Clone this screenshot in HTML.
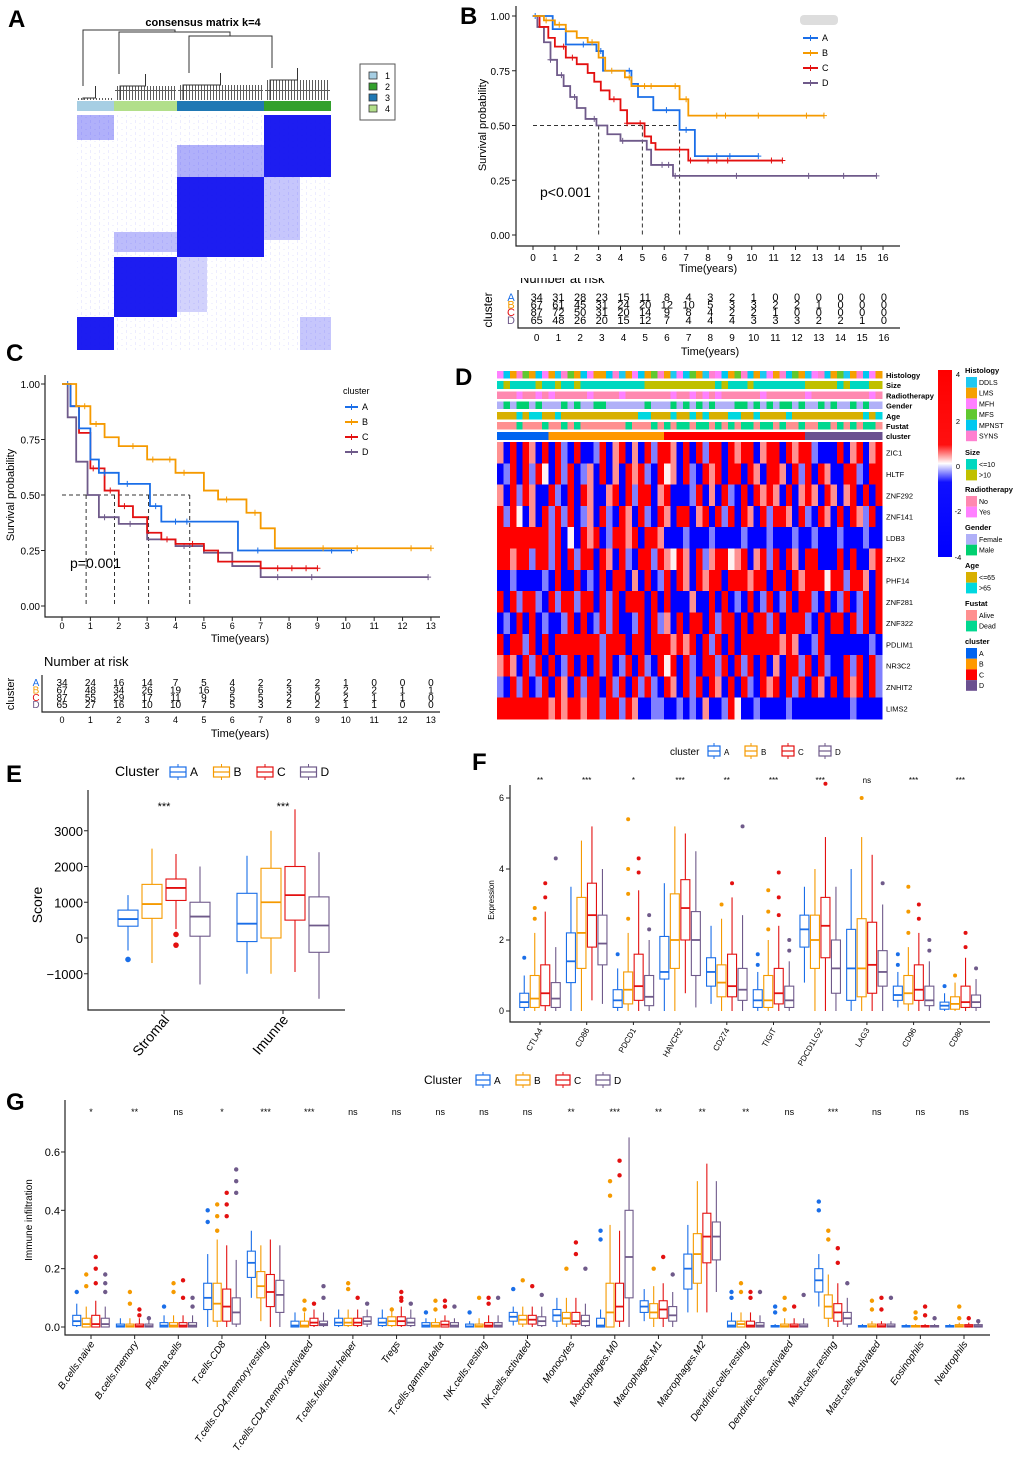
<!DOCTYPE html>
<html><head><meta charset="utf-8"><style>
html,body{margin:0;padding:0;background:#fff}
svg{display:block}
text{font-family:"Liberation Sans",Arial,sans-serif}
</style></head><body>
<svg id="s" width="1020" height="1459" viewBox="0 0 1020 1459" xmlns="http://www.w3.org/2000/svg">
<defs>
<linearGradient id="hmgrad" x1="0" y1="0" x2="0" y2="1">
<stop offset="0" stop-color="#ff0000"/><stop offset="0.4" stop-color="#ff1010"/><stop offset="0.5" stop-color="#ffffff"/><stop offset="0.6" stop-color="#1010ff"/><stop offset="1" stop-color="#0000ff"/>
</linearGradient>
<pattern id="noise" width="9" height="6" patternUnits="userSpaceOnUse"><rect x="0" y="0" width="1" height="3" fill="#d8d8ff"/><rect x="4" y="3" width="2" height="1" fill="#e4e4ff"/></pattern>
<pattern id="leaves" width="3" height="14" patternUnits="userSpaceOnUse"><rect x="0" y="0" width="1" height="14" fill="#333"/><rect x="0" y="6" width="3" height="1" fill="#333"/></pattern>
</defs>
<rect width="1020" height="1459" fill="#fff"/>
<text x="8" y="27" font-size="24" font-weight="bold">A</text>
<text x="460" y="24" font-size="24" font-weight="bold">B</text>
<text x="6" y="361" font-size="24" font-weight="bold">C</text>
<text x="455" y="385" font-size="24" font-weight="bold">D</text>
<text x="6" y="782" font-size="24" font-weight="bold">E</text>
<text x="472" y="770" font-size="24" font-weight="bold">F</text>
<text x="6" y="1110" font-size="24" font-weight="bold">G</text>
<text x="203" y="26" font-size="11" font-weight="bold" text-anchor="middle">consensus matrix k=4</text>
</svg>
<script>
const NS='http://www.w3.org/2000/svg';
const S=document.getElementById('s');
function mk(t,a,p){const e=document.createElementNS(NS,t);for(const k in a)e.setAttribute(k,a[k]);(p||S).appendChild(e);return e;}
function tx(x,y,s,a,p){const e=mk('text',Object.assign({x:x,y:y},a||{}),p);e.textContent=s;return e;}
const CL=['#1a6ee8','#f59a00','#e31010','#6f5a8a'];
const CN=['A','B','C','D'];

/* ---------- Panel A : consensus matrix ---------- */
const aBounds=[77,114,177,264,331];
const aRowBounds=[115,177,257,317,350];
const aBarColors=['#a6cee3','#b2df8a','#1f78b4','#33a02c'];
const gPA=mk('g',{});


mk('rect',{x:77,y:115,width:254,height:235,fill:'url(#noise)',opacity:0.5},gPA);
const aBlocks=[[264,115,67,62,1],[77,115,37,25,0.35],[177,145,87,32,0.35],[177,177,87,80,1],[114,257,63,60,1],[77,317,37,33,1],[264,177,36,63,0.25],[114,232,63,20,0.3],[300,317,31,33,0.25],[177,257,30,55,0.2]];
aBlocks.forEach(b=>{const r=mk('rect',{x:b[0],y:b[1],width:b[2],height:b[3],fill:'#0a0af0','fill-opacity':b[4]*0.92},gPA);

});
for(let i=0;i<4;i++){const r=mk('rect',{x:aBounds[i],y:101,width:aBounds[i+1]-aBounds[i],height:10,fill:aBarColors[i]});

}
const dend=mk('g',{stroke:'#333','stroke-width':1,fill:'none'});


mk('path',{d:'M83,86V30H175V32 M119,74V32H230V36 M189,73V36H272V68'},dend);
[[77,114,86],[114,177,74],[177,264,73],[264,331,68]].forEach(s=>{
 mk('rect',{x:s[0]+1,y:s[2]+12,width:s[1]-s[0]-2,height:100-s[2]-12,fill:'url(#leaves)',stroke:'none',opacity:0.8},dend);
 mk('path',{d:`M${s[0]+6},100V${s[2]+12}H${(s[0]+s[1])/2}V${s[2]} M${(s[0]+s[1])/2},${s[2]+12}V${s[2]+5}`},dend);
});
const lgA=mk('g',{});


mk('rect',{x:360,y:64,width:35,height:56,fill:'#fff',stroke:'#555'},lgA);
['1','2','3','4'].forEach((l,i)=>{mk('rect',{x:369,y:72+i*11,width:8,height:7,fill:[aBarColors[0],aBarColors[3],aBarColors[2],aBarColors[1]][i],stroke:'#333','stroke-width':0.8},lgA);tx(385,79+i*11,l,{'font-size':9},lgA);});

/* ---------- KM helper ---------- */
function kmCurve(xs,ys,times,surv,cens,col,name){
 let d=`M${xs(times[0])},${ys(surv[0])}`;
 for(let i=1;i<times.length;i++){d+=`H${xs(times[i])}V${ys(surv[i])}`;}
 const g=mk('g',{});
 
 
 mk('path',{d:d,fill:'none',stroke:col,'stroke-width':1.8},g);
 cens.forEach(c=>{let s=surv[0];for(let i=0;i<times.length;i++){if(times[i]<=c)s=surv[i];}
  mk('path',{d:`M${xs(c)},${ys(s)-3}v6M${xs(c)-3},${ys(s)}h6`,stroke:col,'stroke-width':1},g);});
}

/* ---------- Panel B ---------- */
const bTimesA=[0,0.9,1.5,2.9,3.2,4.5,4.8,5.5,6.7,7.4,10.3];
const bSurvA=[1,0.94,0.87,0.84,0.75,0.69,0.63,0.57,0.48,0.36,0.36];
const bCensA=[0.1,2.3,3.1,4.4,6.1,7.0,8.4,9.0,10.3];
const bTimesB=[0,0.5,1,1.5,2,2.5,3,3.3,4.2,4.5,6.7,7.1,13.3];
const bSurvB=[1,0.98,0.96,0.93,0.9,0.88,0.81,0.75,0.72,0.68,0.62,0.545,0.545];
const bCensB=[0.6,1.2,2.7,3.6,4.4,5.1,5.4,6.5,7.0,8.4,8.8,10.3,12.5,13.3];
const bTimesC=[0,0.3,0.7,1,1.5,2,2.5,2.8,3.1,3.5,4,4.3,5.1,5.4,5.6,7.1,11.4];
const bSurvC=[1,0.95,0.9,0.86,0.81,0.78,0.74,0.7,0.66,0.62,0.57,0.51,0.45,0.42,0.39,0.34,0.34];
const bCensC=[1.4,1.8,3.7,4.3,4.9,6.7,7.2,8,8.4,8.9,10.9,11.4];
const bTimesD=[0,0.2,0.5,0.8,1.1,1.4,1.7,2,2.4,2.9,3.4,4,5.2,5.4,6.4,15.7];
const bSurvD=[1,0.95,0.88,0.8,0.73,0.68,0.63,0.58,0.53,0.5,0.46,0.43,0.39,0.32,0.27,0.27];
const bCensD=[0.8,1.3,1.9,2.8,4.1,5.9,6.2,6.5,9.3,12.6,14.2,15.7];
const bMedians=[3.0,5.0,6.7];
const bYTicks=['0.00','0.25','0.50','0.75','1.00'];
const bRiskA=[34,31,28,23,15,11,8,4,3,2,1,0,0,0,0,0,0];
const bRiskB=[67,61,45,31,24,20,12,10,5,3,3,2,2,1,0,0,0];
const bRiskC=[87,72,50,31,20,14,9,8,4,2,2,1,0,0,0,0,0];
const bRiskD=[65,48,26,20,15,12,7,4,4,4,3,3,3,2,2,1,0];
(function(){
 const xs=t=>533+t*21.875, ys=s=>235-s*219;
 const g=mk('g',{});
 
 
 mk('path',{d:'M516,6V246H900',fill:'none',stroke:'#222','stroke-width':1.2},g);
 bYTicks.forEach(v=>{const y=ys(+v);mk('line',{x1:512,x2:516,y1:y,y2:y,stroke:'#222'},g);
  const t=tx(510,y+4,v,{'font-size':10,'text-anchor':'end'},g);
  
  });
 for(let i=0;i<=16;i++){mk('line',{x1:xs(i),x2:xs(i),y1:246,y2:250,stroke:'#222'},g);
  const t=tx(xs(i),261,String(i),{'font-size':10,'text-anchor':'middle'},g);
  
  }
 const yt=tx(0,0,'Survival probability',{'font-size':11,'text-anchor':'middle',transform:'translate(486,125) rotate(-90)'},g);
 
 
 const xt=tx(708,272,'Time(years)',{'font-size':11,'text-anchor':'middle'},g);
 
 
 mk('path',{d:`M${xs(0)},${ys(0.5)}H${xs(bMedians[2])}`+bMedians.map(m=>`M${xs(m)},${ys(0.5)}V${ys(0)}`).join(''),stroke:'#333','stroke-dasharray':'4,3',fill:'none'},g);
 kmCurve(xs,ys,bTimesD,bSurvD,bCensD,CL[3],'km-curve-d');
 kmCurve(xs,ys,bTimesC,bSurvC,bCensC,CL[2],'km-curve-c');
 kmCurve(xs,ys,bTimesA,bSurvA,bCensA,CL[0],'km-curve-a');
 kmCurve(xs,ys,bTimesB,bSurvB,bCensB,CL[1],'km-curve-b');
 const p=tx(540,197,'p<0.001',{'font-size':14},g);
 
 
 mk('rect',{x:800,y:15,width:38,height:10,fill:'#ddd',rx:4},g);
 CN.forEach((c,i)=>{const y=38+i*15;mk('line',{x1:803,x2:818,y1:y,y2:y,stroke:CL[i],'stroke-width':2},g);
  mk('path',{d:`M810.5,${y-3}v6`,stroke:CL[i]},g);
  const t=tx(822,y+3,c,{'font-size':9},g);
  
  });
 const rx=t=>536.7+t*21.7;
 const rt=mk('g',{});
 
 
 tx(520,283,'Number at risk',{'font-size':13},rt);
 mk('rect',{x:515,y:268,width:120,height:10,fill:'#fff'},rt);
 mk('path',{d:'M518,290V328H900',fill:'none',stroke:'#222','stroke-width':1.2},rt);
 [bRiskA,bRiskB,bRiskC,bRiskD].forEach((arr,j)=>{const y=301+j*7.6;
  tx(511,y,CN[j],{'font-size':11,fill:CL[j],'text-anchor':'middle'},rt);
  arr.forEach((v,i)=>tx(rx(i),y,String(v),{'font-size':11,'text-anchor':'middle'},rt));});
 tx(0,0,'cluster',{'font-size':12,'text-anchor':'middle',transform:'translate(492,310) rotate(-90)'},rt);
 for(let i=0;i<=16;i++){tx(rx(i),341,String(i),{'font-size':10,'text-anchor':'middle'},rt);}
 tx(710,355,'Time(years)',{'font-size':11,'text-anchor':'middle'},rt);
})();

/* ---------- Panel C ---------- */
const cTimesA=[0,0.3,0.6,1,1.3,2,3.1,3.5,4.5,6.2,10.2];
const cSurvA=[1,0.9,0.8,0.66,0.6,0.55,0.45,0.38,0.38,0.25,0.25];
const cCensA=[0.2,1.5,2.3,3.3,4.0,4.4,6.9,9.5,10.2];
const cTimesB=[0,0.5,1,1.5,2,3,4,5,5.5,6.5,7,7.5,13];
const cSurvB=[1,0.9,0.82,0.76,0.72,0.66,0.6,0.52,0.48,0.42,0.35,0.26,0.26];
const cCensB=[0.8,1.2,2.5,3.2,3.8,4.3,5.8,6.8,9.2,10.4,12.3,13];
const cTimesC=[0,0.3,0.6,1,1.5,2,2.5,3,3.5,4,5,5.5,7,9];
const cSurvC=[1,0.9,0.78,0.62,0.52,0.45,0.4,0.33,0.3,0.28,0.25,0.2,0.17,0.17];
const cCensC=[1.1,1.7,2.2,3.7,4.6,7.6,8.1,8.6,9.0];
const cTimesD=[0,0.2,0.5,0.9,1.3,2,3,4,5,6,7,12.9];
const cSurvD=[1,0.85,0.65,0.5,0.4,0.37,0.3,0.27,0.24,0.18,0.13,0.13];
const cCensD=[1.5,2.4,4.3,7.6,8.8,12.9];
const cMedians=[0.85,1.85,3.05,4.5];
const cRiskA=[34,24,16,14,7,5,4,2,2,2,1,0,0,0];
const cRiskB=[67,48,34,26,19,16,9,6,3,2,2,2,1,1];
const cRiskC=[87,55,29,17,11,9,5,5,2,0,2,1,1,0];
const cRiskD=[65,27,16,10,10,7,5,3,2,2,1,1,0,0];
(function(){
 const xs=t=>62+t*28.38, ys=s=>606-s*222;
 const g=mk('g',{});
 
 
 mk('path',{d:'M45,375V617H440',fill:'none',stroke:'#222','stroke-width':1.2},g);
 bYTicks.forEach(v=>{const y=ys(+v);mk('line',{x1:41,x2:45,y1:y,y2:y,stroke:'#222'},g);
  const t=tx(40,y+4,v,{'font-size':10,'text-anchor':'end'},g);
  
  });
 for(let i=0;i<=13;i++){mk('line',{x1:xs(i),x2:xs(i),y1:617,y2:621,stroke:'#222'},g);
  const t=tx(xs(i),629,String(i),{'font-size':9,'text-anchor':'middle'},g);
  
  }
 const yt=tx(0,0,'Survival probability',{'font-size':11,'text-anchor':'middle',transform:'translate(14,495) rotate(-90)'},g);
 
 
 const xt=tx(240,642,'Time(years)',{'font-size':11,'text-anchor':'middle'},g);
 
 
 mk('path',{d:`M${xs(0)},${ys(0.5)}H${xs(cMedians[3])}`+cMedians.map(m=>`M${xs(m)},${ys(0.5)}V${ys(0)}`).join(''),stroke:'#333','stroke-dasharray':'4,3',fill:'none'},g);
 kmCurve(xs,ys,cTimesD,cSurvD,cCensD,CL[3],'km-curve-d');
 kmCurve(xs,ys,cTimesC,cSurvC,cCensC,CL[2],'km-curve-c');
 kmCurve(xs,ys,cTimesA,cSurvA,cCensA,CL[0],'km-curve-a');
 kmCurve(xs,ys,cTimesB,cSurvB,cCensB,CL[1],'km-curve-b');
 const p=tx(70,568,'p=0.001',{'font-size':14},g);
 
 
 tx(343,394,'cluster',{'font-size':9},g);
 CN.forEach((c,i)=>{const y=407+i*15;mk('line',{x1:345,x2:358,y1:y,y2:y,stroke:CL[i],'stroke-width':2},g);
  mk('path',{d:`M351.5,${y-3}v6`,stroke:CL[i]},g);
  const t=tx(362,y+3,c,{'font-size':9},g);
  
  });
 const rt=mk('g',{});
 
 
 tx(44,666,'Number at risk',{'font-size':13},rt);
 mk('path',{d:'M42,675V712H440',fill:'none',stroke:'#222','stroke-width':1.2},rt);
 [cRiskA,cRiskB,cRiskC,cRiskD].forEach((arr,j)=>{const y=686+j*7.4;
  tx(36,y,CN[j],{'font-size':10,fill:CL[j],'text-anchor':'middle'},rt);
  arr.forEach((v,i)=>tx(xs(i),y,String(v),{'font-size':10,'text-anchor':'middle'},rt));});
 tx(0,0,'cluster',{'font-size':11,'text-anchor':'middle',transform:'translate(14,694) rotate(-90)'},rt);
 for(let i=0;i<=13;i++){tx(xs(i),723,String(i),{'font-size':9,'text-anchor':'middle'},rt);}
 tx(240,737,'Time(years)',{'font-size':11,'text-anchor':'middle'},rt);
})();

/* ---------- Panel D : heatmap ---------- */
const dGenes=['ZIC1','HLTF','ZNF292','ZNF141','LDB3','ZHX2','PHF14','ZNF281','ZNF322','PDLIM1','NR3C2','ZNHIT2','LIMS2'];
const dRows=[
'rBRBRrBRBRbBRBBbRBrRBrBRbRRrBRBRbRRBRrRRBrRRBRrRRbBBBRBrRBrR',
'BbRBRbRwBRbRBbrBRBrBRrRbBRwrBRbBRrRBRRBRrBRRrBRbRBRrBBRRbBRR',
'rBRbRrBBRbBRBRrBBrRBRbRRBrRBBBbRBrBRbBRBRrRrBRBrRrBRrBrRBRBR',
'RbRwBrBRbRbRBbrBRbBRrBRbBRrBRRBrRBRbRBRrBRbRRrBRbBRrBRBRrbRB',
'RRRRRRRRbRBwBRrRBbRRrRBRRrBBBbBBBbBBBBbBBBbBBBbBBbBBBbBBBbBB',
'RRrRRbRRbRBRbRRBRrBRbBRRbRrwRrBRbrRRwrRBrRbRBRrBRRBBBRBRBBrR',
'BBbBBBBbBRBBRBbBRBRRBrBRBbRBRrBRrRRBRRRrRRBRRBRrRRRwRRbRRrBR',
'RBRbRRbBRbRRbRRBRbRBRRRBRBRBBBrBBRBRBbBRBbRBbRBRRbBRBbRBbRBR',
'BbBRBRBbBBbRBRBbRbRBBbRBRbrBRBRRBRbRRBRBRRbRBRRRbBRBRRBRbRBR',
'RBRRbRBRBRRRRRRRbRRRBRRBRRRrRrRBRbRBRBRRRRRRrRrBBbRBBBBBBBbB',
'rRrBRbRBRBbRBRBRbRBbRBRbBRwRBRbBRRbRBRbRBRBrBRRbRBRbBBRbRBRb',
'bBRbRBbRBRrBRbRRBRbRBRbRbBRrBRbRBRrBRBRbBRrRBRbRBRrBRBRrRBRb',
'RRRRRRRRrRrRRrRRbRRbRrBBbbBBbBbBrBBbRwBBbBBBBbBBBBBBBBBbBBBB'];
const dLevel={R:'#ff0000',r:'#ff9090',w:'#fff2f2',b:'#8080ff',B:'#0000ff'};
const dAnnNames=['Histology','Size','Radiotherapy','Gender','Age','Fustat','cluster'];
const dHist='HPLSFLPHLDSFLPHLLPSDLHPLFSLDHPFLDSHPLFSPLDHLSPFLDHSPLFDLSPHL';
const dSize='010000100100100000000001111111111101000100000000111110100011';
const dRadio='000100101000001000010000000100101010000001000000100000000010';
const dGender='010110100010100110000001000101010100011010101101001010010100';
const dAge='000101100100000000000011000100101000110010000100000000000101';
const dFustat='000100010010100000001000101011011010101101101001001101010110';
const dCluster='AAAAAAAABBBBBBBBBBBBBBBBBBCCCCCCCCCCCCCCCCCCCCCCDDDDDDDDDDDD';
const dAnnColors=[
 {D:'#1ec8f0',L:'#f5a000',H:'#ff80ff',F:'#60c830',P:'#00c8f0',S:'#ff80d0'},
 {'0':'#00d8c0','1':'#c0c000'},{'0':'#ff88b0','1':'#ff80ff'},{'0':'#b0b0f8','1':'#00d070'},
 {'0':'#d8b000','1':'#00d8e0'},{'0':'#ff9090','1':'#00d890'},{A:'#0064f0',B:'#ff9900',C:'#ff0000',D:'#6b5090'}];
(function(){
 const x0=497,W=385;
 const g=mk('g',{'shape-rendering':'crispEdges'});
 
 
 [dHist,dSize,dRadio,dGender,dAge,dFustat,dCluster].forEach((s,j)=>{
  const y=371+j*10.2,cw=W/s.length;
  for(let i=0;i<s.length;i++){const r=mk('rect',{x:x0+i*cw,y:y,width:cw+0.5,height:7.6,fill:dAnnColors[j][s[i]]},g);
   
   }
  const t=tx(886,y+7,dAnnNames[j],{'font-size':7.5,'font-weight':'bold'},g);
  
  
 });
 const rh=277/13;
 dRows.forEach((s,j)=>{const y=442+j*rh,cw=W/s.length;
  for(let i=0;i<s.length;i++){const r=mk('rect',{x:x0+i*cw,y:y,width:cw+0.5,height:rh+0.3,fill:dLevel[s[i]]},g);
   
   }
  const t=tx(886,y+rh/2+3,dGenes[j],{'font-size':7.5},g);
  
  
 });
 const lg=mk('g',{});
 
 
 mk('rect',{x:938,y:370,width:14,height:187,fill:'url(#hmgrad)'},lg);
 [['4',374],['2',421],['0',466],['-2',511],['-4',557]].forEach(v=>tx(958,v[1]+3,v[0],{'font-size':7.5,'text-anchor':'middle'},lg));
 const groups=[['Histology',373,['DDLS','LMS','MFH','MFS','MPNST','SYNS'],['#1ec8f0','#f5a000','#ff80ff','#60c830','#00c8f0','#ff80d0']],
  ['Size',455,['<=10','>10'],['#00d8c0','#c0c000']],['Radiotherapy',492,['No','Yes'],['#ff88b0','#ff80ff']],
  ['Gender',530,['Female','Male'],['#b0b0f8','#00d070']],['Age',568,['<=65','>65'],['#d8b000','#00d8e0']],
  ['Fustat',606,['Alive','Dead'],['#ff9090','#00d890']],['cluster',644,['A','B','C','D'],['#0064f0','#ff9900','#ff0000','#6b5090']]];
 groups.forEach(gr=>{tx(965,gr[1],gr[0],{'font-size':7.5,'font-weight':'bold'},lg);
  gr[2].forEach((l,i)=>{const y=gr[1]+4+i*10.7;mk('rect',{x:966,y:y,width:11,height:10.7,fill:gr[3][i]},lg);tx(979,y+8,l,{'font-size':7},lg);});});
})();

/* ---------- box helper ---------- */
function boxp(cx,w,v,col,ys,name,p){
 const g=mk('g',{},p);
 
 
 mk('line',{x1:cx,x2:cx,y1:ys(v[4]),y2:ys(v[2]),stroke:col,'stroke-width':1.1},g);
 mk('line',{x1:cx,x2:cx,y1:ys(v[0]),y2:ys(v[3]),stroke:col,'stroke-width':1.1},g);
 mk('rect',{x:cx-w/2,y:ys(v[2]),width:w,height:Math.max(1,ys(v[0])-ys(v[2])),fill:'#fff',stroke:col,'stroke-width':1.1},g);
 mk('line',{x1:cx-w/2,x2:cx+w/2,y1:ys(v[1]),y2:ys(v[1]),stroke:col,'stroke-width':1.8},g);
 return g;
}
function legendIcons(x0,y,firstX,gap,iw,title,fs,p){
 tx(x0,y+4,title,{'font-size':fs},p);
 CN.forEach((c,i)=>{const x=firstX+gap*i;
  mk('rect',{x:x,y:y-5,width:iw,height:10,fill:'#fff',stroke:CL[i],'stroke-width':1.2},p);
  mk('line',{x1:x,x2:x+iw,y1:y,y2:y,stroke:CL[i],'stroke-width':1.2},p);
  mk('line',{x1:x+iw/2,x2:x+iw/2,y1:y-8,y2:y-5,stroke:CL[i]},p);mk('line',{x1:x+iw/2,x2:x+iw/2,y1:y+5,y2:y+8,stroke:CL[i]},p);
  tx(x+iw+4,y+4,c,{'font-size':fs-2},p);});
}

/* ---------- Panel E ---------- */
const eCats=['Stromal','Imunne'];
const eSig=['***','***'];
const eStromal=[[330,530,780,-350,1200],[550,950,1500,-700,2500],[1050,1400,1650,250,2350],[50,600,1000,-1300,2000]];
const eImmune=[[-100,400,1250,-1000,2300],[0,1000,1950,-1000,3000],[500,1200,2000,-950,3600],[-400,350,1150,-1700,2400]];
const eOutStromal=[[-600],[],[-200,100],[]];
const eOutImmune=[[],[],[],[]];
const eTicks=[-1000,0,1000,2000,3000];
(function(){
 const ys=v=>938-v*0.03575;
 const g=mk('g',{});
 
 
 mk('path',{d:'M88,790V1010H345',fill:'none',stroke:'#222','stroke-width':1.2},g);
 eTicks.forEach(v=>{mk('line',{x1:84,x2:88,y1:ys(v),y2:ys(v),stroke:'#222'},g);
  const t=tx(83,ys(v)+5,v<0?'\u22121000':String(v),{'font-size':13,'text-anchor':'end'},g);
  
  });
 const yt=tx(0,0,'Score',{'font-size':14,'text-anchor':'middle',transform:'translate(42,905) rotate(-90)'},g);
 
 
 const lg=mk('g',{});
 
 
 legendIcons(115,772,170,43.5,16,'Cluster',14,lg);
 const centers=[164,283];
 [eStromal,eImmune].forEach((grp,k)=>{
  grp.forEach((v,i)=>{const cx=centers[k]+(i-1.5)*24;boxp(cx,20,v,CL[i],ys,'box-'+eCats[k].toLowerCase()+'-'+CN[i].toLowerCase(),g);
   [eOutStromal,eOutImmune][k][i].forEach(o=>mk('circle',{cx:cx,cy:ys(o),r:2.8,fill:CL[i]},g));});
  mk('line',{x1:centers[k],x2:centers[k],y1:1010,y2:1014,stroke:'#222'},g);
  const t=tx(0,0,eCats[k],{'font-size':14,'text-anchor':'end',transform:`translate(${centers[k]+6},1020) rotate(-50)`},g);
  
  
  const s=tx(centers[k],810,eSig[k],{'font-size':11,'text-anchor':'middle'},g);
  
  
 });
})();

/* ---------- Panel F ---------- */
const fGenes=['CTLA4','CD86','PDCD1','HAVCR2','CD274','TIGIT','PDCD1LG2','LAG3','CD96','CD80'];
const fSig=['**','***','*','***','**','***','***','ns','***','***'];
const fA=[[0.1,0.25,0.5,0,1.0],[0.8,1.4,2.2,0,3.5],[0.1,0.3,0.6,0,1.2],[0.9,1.1,2.1,0,3.6],[0.7,1.1,1.5,0.2,2.4],[0.1,0.3,0.6,0,1.1],[1.8,2.3,2.7,0.8,3.5],[0.3,1.2,2.3,0,4.0],[0.3,0.45,0.7,0.1,1.1],[0.05,0.15,0.25,0,0.5]];
const fB=[[0.1,0.35,1.0,0,2.2],[1.2,2.2,3.2,0,4.8],[0.2,0.6,1.1,0,2.2],[1.2,2.0,3.3,0,5.2],[0.4,0.8,1.3,0,2.6],[0.1,0.3,1.0,0,2.0],[1.2,2.0,2.7,0,4.0],[0.4,1.2,2.6,0,4.9],[0.2,0.5,1.0,0,1.8],[0.05,0.2,0.4,0,0.8]];
const fC=[[0.15,0.5,1.3,0,2.8],[1.8,2.7,3.6,0.3,5.2],[0.3,0.7,1.6,0,3.4],[2.0,2.9,3.7,0.5,5.0],[0.4,0.7,1.6,0,3.2],[0.2,0.5,1.2,0,2.4],[1.5,2.4,3.2,0,4.9],[0.5,1.3,2.5,0,4.4],[0.3,0.6,1.3,0,2.2],[0.1,0.25,0.7,0,1.5]];
const fD=[[0.1,0.35,0.8,0,1.8],[1.3,1.9,2.7,0.2,4.0],[0.15,0.4,1.0,0,2.0],[1.0,2.0,2.8,0.1,4.5],[0.3,0.6,1.2,0,2.7],[0.1,0.3,0.7,0,1.4],[0.5,1.2,2.0,0,3.5],[0.7,1.1,1.7,0,3.0],[0.15,0.3,0.7,0,1.4],[0.1,0.25,0.45,0,0.9]];
const fOutA=[[1.5],[],[1.6],[],[],[1.3,1.6],[],[],[1.3,1.6],[0.7]];
const fOutB=[[2.6,2.9],[],[2.6,3.3,4.0,5.4],[],[3.0],[2.3,2.8,3.4],[],[6.0],[2.2,2.8,3.5],[1.0]];
const fOutC=[[3.2,3.6],[],[3.9,4.3],[],[3.6],[2.7,3.2,3.9],[6.4],[],[2.6,3.0],[1.8,2.2]];
const fOutD=[[4.3],[],[2.3,2.7],[],[5.2],[1.7,2.0],[],[3.6],[1.7,2.0],[1.2]];
const fTicks=[0,2,4,6];
(function(){
 const ys=v=>1011-v*35.5;
 const g=mk('g',{});
 
 
 mk('path',{d:'M510,785V1022H990',fill:'none',stroke:'#222','stroke-width':1.2},g);
 fTicks.forEach(v=>{mk('line',{x1:506,x2:510,y1:ys(v),y2:ys(v),stroke:'#222'},g);
  const t=tx(504,ys(v)+3,String(v),{'font-size':9,'text-anchor':'end'},g);
  
  });
 const yt=tx(0,0,'Expression',{'font-size':8,'text-anchor':'middle',transform:'translate(494,900) rotate(-90)'},g);
 
 
 const lg=mk('g',{});
 
 
 legendIcons(670,751,708,37,12,'cluster',10,lg);
 fGenes.forEach((gn,k)=>{const c=540+k*46.7;
  [fA,fB,fC,fD].forEach((arr,i)=>{const cx=c+(i-1.5)*10.5;boxp(cx,9,arr[k],CL[i],ys,'box-'+gn.toLowerCase()+'-'+CN[i].toLowerCase(),g);
   [fOutA,fOutB,fOutC,fOutD][i][k].forEach(o=>mk('circle',{cx:cx,cy:ys(o),r:2,fill:CL[i]},g));});
  mk('line',{x1:c,x2:c,y1:1022,y2:1025,stroke:'#222'},g);
  const t=tx(0,0,gn,{'font-size':8,'text-anchor':'end',transform:`translate(${c+3},1030) rotate(-60)`},g);
  
  
  const s=tx(c,783,fSig[k],{'font-size':8,'text-anchor':'middle'},g);
  
  
 });
})();

/* ---------- Panel G ---------- */
const gCells=['B.cells.naive','B.cells.memory','Plasma.cells','T.cells.CD8','T.cells.CD4.memory.resting','T.cells.CD4.memory.activated','T.cells.follicular.helper','Tregs','T.cells.gamma.delta','NK.cells.resting','NK.cells.activated','Monocytes','Macrophages.M0','Macrophages.M1','Macrophages.M2','Dendritic.cells.resting','Dendritic.cells.activated','Mast.cells.resting','Mast.cells.activated','Eosinophils','Neutrophils'];
const gSig=['*','**','ns','*','***','***','ns','ns','ns','ns','ns','**','***','**','**','**','ns','***','ns','ns','ns'];
const gA=[[0.005,0.02,0.04,0,0.08],[0,0.003,0.01,0,0.03],[0,0.005,0.015,0,0.04],[0.06,0.1,0.15,0,0.25],[0.17,0.22,0.26,0.1,0.33],[0,0.005,0.02,0,0.05],[0.005,0.015,0.03,0,0.06],[0.005,0.015,0.03,0,0.06],[0,0.005,0.015,0,0.03],[0,0.002,0.01,0,0.02],[0.02,0.035,0.05,0.005,0.07],[0.02,0.04,0.06,0,0.1],[0,0.005,0.03,0,0.06],[0.05,0.07,0.09,0.02,0.13],[0.13,0.2,0.25,0.05,0.35],[0,0.005,0.02,0,0.05],[0,0.002,0.005,0,0.01],[0.12,0.16,0.2,0.07,0.25],[0,0.002,0.005,0,0.01],[0,0.002,0.005,0,0.01],[0,0.002,0.005,0,0.01]];
const gB=[[0,0.01,0.03,0,0.07],[0,0.003,0.01,0,0.03],[0,0.005,0.015,0,0.04],[0.02,0.08,0.15,0,0.3],[0.1,0.14,0.19,0.02,0.28],[0,0.005,0.02,0,0.05],[0.005,0.015,0.03,0,0.06],[0.005,0.02,0.035,0,0.06],[0,0.005,0.015,0,0.03],[0,0.003,0.01,0,0.03],[0.01,0.025,0.04,0,0.07],[0.01,0.03,0.05,0,0.1],[0,0.05,0.15,0,0.35],[0.03,0.05,0.08,0,0.14],[0.15,0.25,0.32,0.05,0.5],[0,0.01,0.02,0,0.05],[0,0.003,0.01,0,0.03],[0.03,0.07,0.11,0,0.18],[0,0.003,0.01,0,0.02],[0,0.002,0.005,0,0.01],[0,0.003,0.008,0,0.015]];
const gC=[[0,0.01,0.04,0,0.09],[0,0.003,0.01,0,0.03],[0,0.005,0.015,0,0.04],[0.02,0.07,0.13,0,0.28],[0.07,0.12,0.18,0,0.3],[0.005,0.015,0.03,0,0.06],[0.005,0.015,0.03,0,0.06],[0.005,0.02,0.035,0,0.07],[0,0.008,0.02,0,0.04],[0,0.005,0.015,0,0.04],[0.01,0.025,0.04,0,0.07],[0.01,0.02,0.05,0,0.1],[0.02,0.07,0.15,0,0.33],[0.03,0.06,0.09,0,0.15],[0.22,0.31,0.39,0.05,0.56],[0,0.005,0.02,0,0.05],[0,0.003,0.01,0,0.03],[0.02,0.05,0.08,0,0.15],[0,0.003,0.01,0,0.02],[0,0.002,0.005,0,0.01],[0,0.003,0.008,0,0.015]];
const gD=[[0,0.01,0.03,0,0.07],[0,0.003,0.01,0,0.03],[0,0.005,0.015,0,0.04],[0.01,0.05,0.1,0,0.23],[0.05,0.11,0.16,0,0.28],[0.005,0.01,0.02,0,0.05],[0.01,0.02,0.035,0,0.06],[0.005,0.015,0.03,0,0.06],[0,0.005,0.015,0,0.03],[0,0.005,0.015,0,0.04],[0.005,0.02,0.035,0,0.07],[0.005,0.02,0.04,0,0.08],[0.1,0.24,0.4,0,0.65],[0.02,0.04,0.07,0,0.12],[0.23,0.31,0.36,0.12,0.5],[0,0.005,0.015,0,0.04],[0,0.003,0.01,0,0.03],[0.01,0.03,0.05,0,0.1],[0,0.003,0.01,0,0.02],[0,0.002,0.005,0,0.01],[0,0.003,0.008,0,0.015]];
const gOutA=[[0.12],[],[0.07],[0.36,0.4],[],[],[],[],[0.05],[0.05],[0.13],[],[0.3,0.33],[],[],[0.1,0.12],[0.05,0.07],[0.4,0.43],[],[],[]];
const gOutB=[[0.14,0.18],[0.08,0.12],[0.12,0.15],[0.33,0.38,0.42],[],[0.06,0.09],[0.13,0.15],[0.06],[0.06,0.09],[0.1],[0.16],[0.2],[0.45,0.5],[0.2],[],[0.12,0.15],[0.06,0.1],[0.3,0.33],[0.06,0.09],[0.03,0.05],[0.03,0.07]];
const gOutC=[[0.15,0.2,0.24],[0.04,0.06],[0.1,0.16],[0.38,0.42,0.46],[],[0.08],[0.1],[0.09,0.1,0.12],[0.07,0.09],[0.08,0.1],[0.14],[0.25,0.29],[0.52,0.57],[0.24],[],[0.1,0.12],[0.07],[0.22,0.27],[0.06,0.1],[0.04,0.07],[0.03]];
const gOutD=[[0.12,0.15,0.18],[0.03],[0.07,0.1],[0.46,0.5,0.54],[],[0.1,0.14],[0.08],[0.08],[0.07],[0.1],[0.11],[0.2],[],[0.18],[],[0.12],[0.11],[0.15],[0.1],[0.03],[0.02]];
const gTicks=[0,0.2,0.4,0.6];
(function(){
 const ys=v=>1327-v*291.7;
 const g=mk('g',{});
 
 
 mk('path',{d:'M65,1100V1335H990',fill:'none',stroke:'#222','stroke-width':1.2},g);
 gTicks.forEach(v=>{mk('line',{x1:61,x2:65,y1:ys(v),y2:ys(v),stroke:'#222'},g);
  const t=tx(60,ys(v)+4,v.toFixed(1),{'font-size':11,'text-anchor':'end'},g);
  
  });
 const yt=tx(0,0,'Immune infiltration',{'font-size':10,'text-anchor':'middle',transform:'translate(32,1220) rotate(-90)'},g);
 
 
 const lg=mk('g',{});
 
 
 legendIcons(424,1080,476,40,14,'Cluster',12,lg);
 gCells.forEach((cn,k)=>{const c=91+k*43.65;
  [gA,gB,gC,gD].forEach((arr,i)=>{const cx=c+(i-1.5)*9.5;boxp(cx,8,arr[k],CL[i],ys,'box-'+cn.toLowerCase().replace(/\./g,'-')+'-'+CN[i].toLowerCase(),g);
   [gOutA,gOutB,gOutC,gOutD][i][k].forEach(o=>mk('circle',{cx:cx,cy:ys(o),r:2.2,fill:CL[i]},g));});
  mk('line',{x1:c,x2:c,y1:1335,y2:1339,stroke:'#222'},g);
  const t=tx(0,0,cn,{'font-size':10,'text-anchor':'end','font-style':'italic',transform:`translate(${c+4},1344) rotate(-55)`},g);
  
  
  const s=tx(c,1115,gSig[k],{'font-size':9,'text-anchor':'middle'},g);
  
  
 });
})();
</script>
</body></html>
